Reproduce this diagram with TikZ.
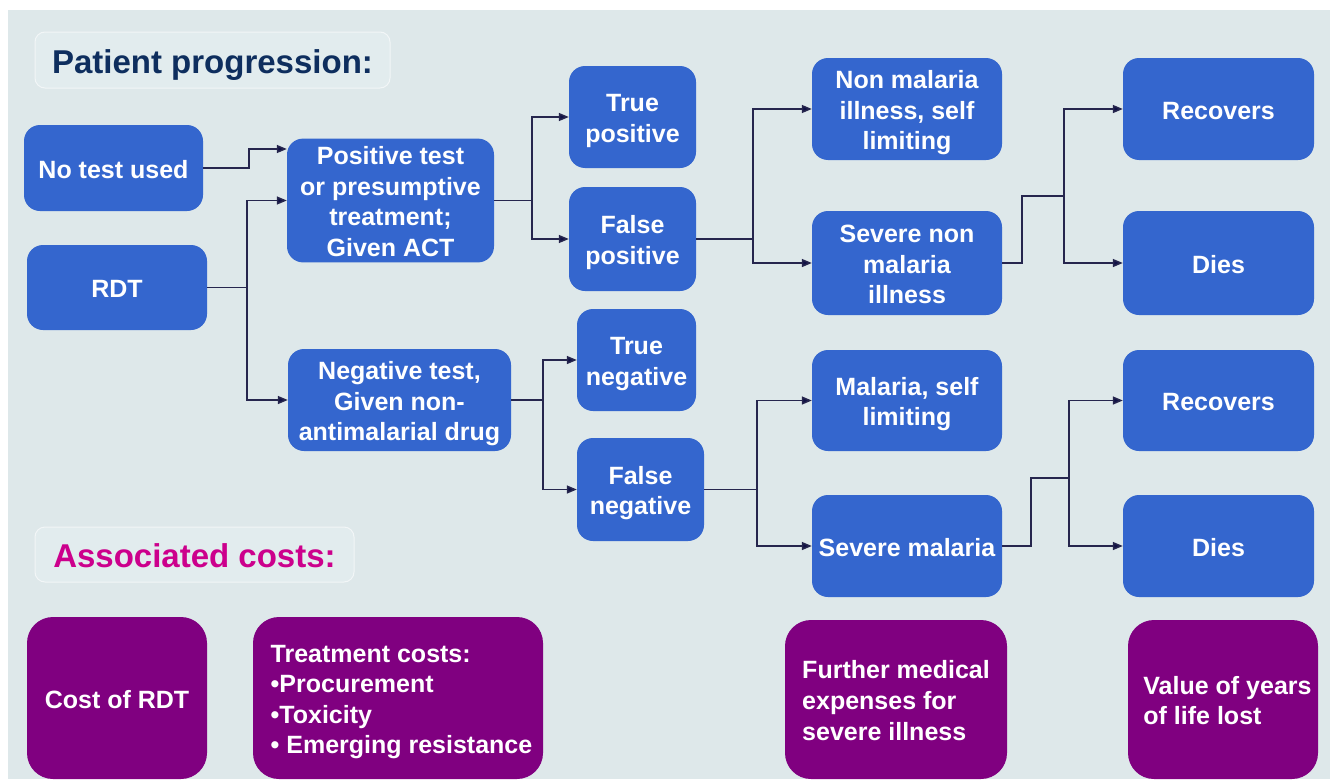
\documentclass[tikz,border=0pt]{standalone}
\usepackage{fontspec}
\setmainfont{Liberation Sans}
\usetikzlibrary{arrows.meta,calc}
\tikzset{>={Triangle[length=10pt,width=8pt]}}

\definecolor{bgcol}{RGB}{222,232,234}
\definecolor{headfill}{RGB}{226,236,238}
\definecolor{boxblue}{RGB}{52,102,206}
\definecolor{boxpurple}{RGB}{128,0,128}
\definecolor{headnavy}{RGB}{14,46,94}
\definecolor{headpink}{RGB}{204,0,140}
\definecolor{linecol}{RGB}{38,38,78}
\definecolor{tipcol}{RGB}{16,16,70}

\newcommand{\boxfont}{\bfseries\fontsize{25}{30.6}\selectfont}
\newcommand{\headfont}{\bfseries\fontsize{33}{38}\selectfont}
% struts so that the text sits a little low in its box
\newcommand{\btxt}[1]{\rule{0pt}{26pt}#1\rule[-6pt]{0pt}{6pt}}

\tikzset{
  stage/.style={fill=boxblue, rounded corners=16pt, text=white, font=\boxfont,
    align=center, inner sep=0pt},
  cost/.style={fill=boxpurple, rounded corners=26pt, text=white, font=\boxfont,
    inner sep=0pt},
  heading/.style={draw=white!60!bgcol, line width=1pt, fill=headfill,
    rounded corners=10pt, font=\headfont, inner sep=0pt,
    execute at begin node={\rule{0pt}{34pt}},
    execute at end node={\rule[-8pt]{0pt}{8pt}}},
  link/.style={->, draw=linecol, line width=1.5pt, >={Triangle[length=10pt,width=8pt,fill=tipcol]}},
  plain/.style={draw=linecol, line width=1.5pt},
}

\begin{document}
\begin{tikzpicture}[x=1pt,y=-1pt]
  \useasboundingbox (0,0) rectangle (1330,779);
  \fill[white] (0,0) rectangle (1330,779);
  \fill[bgcol] (8,10) rectangle (1330,779);

  % Headings
  \node[heading, minimum width=355pt, minimum height=56pt, text=headnavy] (hprog) at (212.5,60) {Patient progression:};
  \node[heading, minimum width=319pt, minimum height=55pt, text=headpink] (hcost) at (194.5,554.5) {Associated costs:};

  % Patient progression
  \node[stage, minimum width=179pt, minimum height=86pt] (notest) at (113.5,168) {\btxt{No test used}};
  \node[stage, minimum width=180pt, minimum height=85pt] (rdt) at (117,287.5) {\btxt{RDT}};
  \node[stage, minimum width=207pt, minimum height=121pt] (pos) at (390.5,200.5) {\btxt{Positive test\\or presumptive\\treatment;\\Given ACT}};
  \node[stage, minimum width=223pt, minimum height=102pt] (neg) at (399.5,400) {\btxt{Negative test,\\Given non-\\antimalarial drug}};
  \node[stage, minimum width=127pt, minimum height=102pt] (tp) at (632.5,117) {\btxt{True\\positive}};
  \node[stage, minimum width=127pt, minimum height=104pt] (fp) at (632.5,239) {\btxt{False\\positive}};
  \node[stage, minimum width=119pt, minimum height=102pt] (tn) at (636.5,360) {\btxt{True\\negative}};
  \node[stage, minimum width=127pt, minimum height=103pt] (fn) at (640.5,489.5) {\btxt{False\\negative}};
  \node[stage, minimum width=190pt, minimum height=102pt] (nm) at (907,109) {\btxt{Non malaria\\illness, self\\limiting}};
  \node[stage, minimum width=190pt, minimum height=104pt] (snm) at (907,263) {\btxt{Severe non\\malaria\\illness}};
  \node[stage, minimum width=190pt, minimum height=101pt] (ms) at (907,400.5) {\btxt{Malaria, self\\limiting}};
  \node[stage, minimum width=190pt, minimum height=102pt] (sm) at (907,546) {\btxt{Severe malaria}};
  \node[stage, minimum width=191pt, minimum height=102pt] (rec1) at (1218.5,109) {\btxt{Recovers}};
  \node[stage, minimum width=191pt, minimum height=104pt] (die1) at (1218.5,263) {\btxt{Dies}};
  \node[stage, minimum width=191pt, minimum height=101pt] (rec2) at (1218.5,400.5) {\btxt{Recovers}};
  \node[stage, minimum width=191pt, minimum height=102pt] (die2) at (1218.5,546) {\btxt{Dies}};

  % Associated costs
  \node[cost, minimum width=180pt, minimum height=162pt] (crdt) at (117,698) {\btxt{Cost of RDT}};
  \node[cost, minimum width=290pt, minimum height=162pt, align=left] (ctreat) at (398,698)
    {\btxt{\hspace*{7pt}Treatment costs:\\\hspace*{7pt}\textbullet Procurement\\\hspace*{7pt}\textbullet Toxicity\\\hspace*{7pt}\textbullet\ Emerging resistance}};
  \node[cost, minimum width=222pt, minimum height=159pt, align=left] (cmed) at (896,699.5)
    {\btxt{Further medical\\expenses for\\severe illness}};
  \node[cost, minimum width=190pt, minimum height=159pt, align=left] (clife) at (1223,699.5)
    {\btxt{\hspace*{9pt}Value of years\\\hspace*{9pt}of life lost}};

  % Connectors
  \draw[link] (notest.east) -- ++(46,0) |- ($(pos.west)+(0,-51.5)$);
  \draw[link] (rdt.east) -- ++(40,0) coordinate (rdtfork) |- (pos.west);
  \draw[link] (rdtfork) |- (neg.west);

  \draw[link] (pos.east) -- ++(38,0) coordinate (posfork) |- (tp.west);
  \draw[link] (posfork) |- (fp.west);
  \draw[link] (neg.east) -- ++(32,0) coordinate (negfork) |- (tn.west);
  \draw[link] (negfork) |- (fn.west);

  \draw[link] (fp.east) -- ++(57,0) coordinate (fpfork) |- (nm.west);
  \draw[link] (fpfork) |- (snm.west);
  \draw[link] (fn.east) -- ++(53,0) coordinate (fnfork) |- (ms.west);
  \draw[link] (fnfork) |- (sm.west);

  \draw[plain] (snm.east) -- ++(20,0) |- ++(42,-67) coordinate (snmfork);
  \draw[link] (snmfork) |- (rec1.west);
  \draw[link] (snmfork) |- (die1.west);
  \draw[plain] (sm.east) -- ++(29,0) |- ++(38,-68) coordinate (smfork);
  \draw[link] (smfork) |- (rec2.west);
  \draw[link] (smfork) |- (die2.west);
\end{tikzpicture}
\end{document}
